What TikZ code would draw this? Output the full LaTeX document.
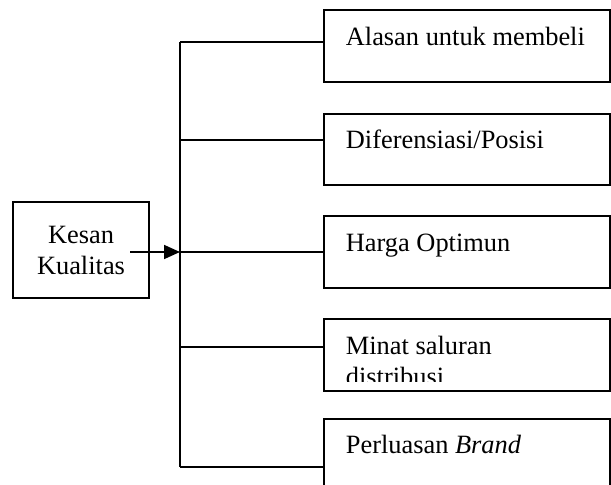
\documentclass[tikz,border=0pt]{standalone}
\usepackage{fontspec}
\setmainfont{Liberation Serif}
\usetikzlibrary{arrows.meta}
\begin{document}
\begin{tikzpicture}[x=1pt,y=-1pt,
  line width=1.7pt,
  boxR/.style={draw,rectangle,anchor=north west,minimum width=286pt,inner sep=0pt},
  boxL/.style={draw,rectangle,minimum width=136pt,minimum height=96pt,align=center,inner sep=0pt,font=\fontsize{26.4}{31}\selectfont},
  lbl/.style={anchor=base west,inner sep=0pt,font=\fontsize{26.4}{31}\selectfont}]
\clip (0,0) rectangle (611,485);
\useasboundingbox (0,0) rectangle (611,485);
% left box
\node[boxL] (kq) at (81,250) {Kesan\\Kualitas};
% right boxes
\node[boxR,minimum height=72pt] (b1) at (323,9) {};
\node[boxR,minimum height=71pt] (b2) at (323,113) {};
\node[boxR,minimum height=72pt] (b3) at (323,215) {};
\node[boxR,minimum height=72pt] (b4) at (323,318) {};
\node[boxR,minimum height=90pt] (b5) at (323,418) {};
% texts
\node[lbl] (t1) at (345,45) {Alasan untuk membeli};
\node[lbl] (t2) at (345,148) {Diferensiasi/Posisi};
\node[lbl] (t3) at (345,251) {Harga Optimun};
\begin{scope}
\clip (323,318) rectangle (609,381);
\node[lbl] (t4) at (345,354) {Minat saluran};
\node[lbl] (t4b) at (345,385) {distribusi};
\end{scope}
\node[lbl] (t5) at (345,453) {Perluasan \textit{Brand}};
% trunk
\coordinate (c1) at (180,42);
\coordinate (c2) at (180,140);
\coordinate (c3) at (180,252);
\coordinate (c4) at (180,347);
\coordinate (c5) at (180,467);
\draw (c1) -- (c5);
\draw (c1) -- (c1 -| b1.west);
\draw (c2) -- (c2 -| b2.west);
\draw (c3) -- (c3 -| b3.west);
\draw (c4) -- (c4 -| b4.west);
\draw (c5) -- (c5 -| b5.west);
\coordinate (a0) at (130,252);
\draw[-{Triangle[length=16pt,width=14pt]}] (a0) -- (c3);
\end{tikzpicture}
\end{document}
